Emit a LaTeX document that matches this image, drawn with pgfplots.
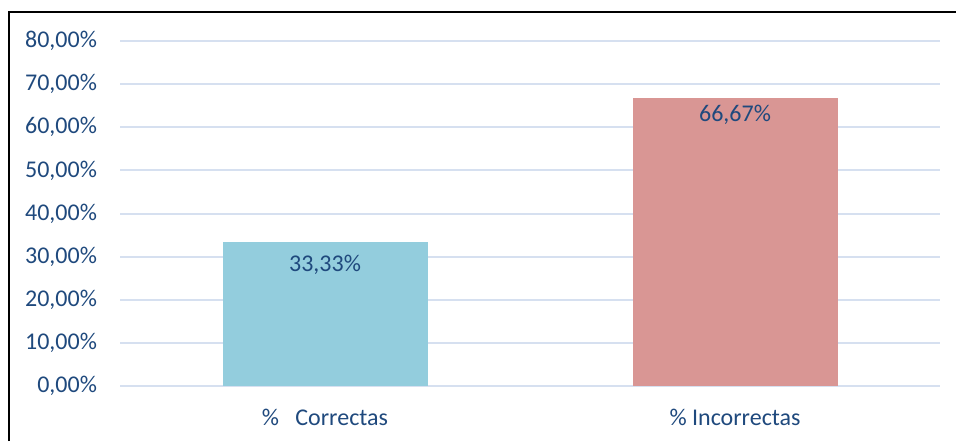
\documentclass[border=0pt]{standalone}
\usepackage{fontspec}
\setmainfont{Carlito}
\usepackage{pgfplots}
\pgfplotsset{compat=1.18}
\definecolor{txt}{RGB}{31,73,125}
\definecolor{gridc}{RGB}{214,224,240}
\definecolor{barA}{RGB}{147,205,221}
\definecolor{barB}{RGB}{217,150,148}
\begin{document}
\begin{tikzpicture}
\useasboundingbox (0,0) rectangle (478pt,220.5pt);
\draw[black, line width=1pt] (4.5pt,0) -- (4.5pt,214.5pt) -- (480pt,214.5pt);
\begin{axis}[
  at={(60pt,27.5pt)}, anchor=south west,
  scale only axis, width=410pt, height=172.5pt,
  xmin=-0.5, xmax=1.5, ymin=0, ymax=80,
  ybar, bar width=102.5pt, bar shift=0pt,
  axis line style={draw=none},
  tick style={draw=none},
  ymajorgrids, grid style={gridc, line width=1pt},
  ytick={0,10,...,80},
  xtick={0,1},
  xticklabels={\%\ \ \ Correctas, \% Incorrectas},
  font=\fontsize{12}{14}\selectfont,
  tick label style={text=txt},
  /pgf/number format/assume math mode=true,
  yticklabel={\pgfmathprintnumber[fixed, fixed zerofill, precision=2, use comma, assume math mode=true]{\tick}\%},
  y tick label style={xshift=-8pt},
  x tick label style={yshift=-4pt},
  nodes near coords={\pgfmathprintnumber[fixed, fixed zerofill, precision=2, use comma, assume math mode=true]{\pgfplotspointmeta}\%},
  every node near coord/.append style={text=txt, anchor=center, font=\fontsize{12}{14}\selectfont},
  clip=false,
]
\addplot[fill=barA, draw=none, every node near coord/.append style={yshift=-11.5pt}] coordinates {(0,33.33)};
\addplot[fill=barB, draw=none, every node near coord/.append style={yshift=-8pt}] coordinates {(1,66.67)};
\end{axis}
\end{tikzpicture}
\end{document}
